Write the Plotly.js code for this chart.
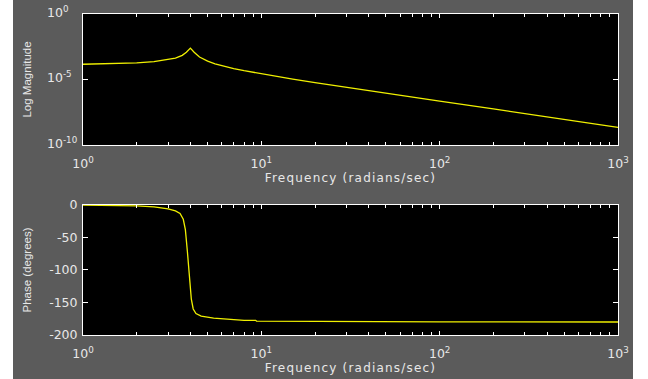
<!DOCTYPE html>
<html>
<head>
<meta charset="utf-8">
<script src="https://cdn.plot.ly/plotly-3.0.1.min.js"></script>
<style>
html,body{margin:0;padding:0;background:#ffffff;width:648px;height:379px;overflow:hidden;}
#chart{position:absolute;left:13px;top:0;width:620px;height:379px;}
#chart .xtitle, #chart .x2title{letter-spacing:1.2px;}
</style>
</head>
<body>
<div id="chart"></div>
<script>
// Magnitude series (frequency in rad/s, magnitude)
const freqMag = [1, 1.5, 2, 2.5, 3, 3.3, 3.6, 3.8, 4, 4.2, 4.5, 5, 5.5, 6, 7, 8, 10, 15, 20, 30, 50, 70, 100, 200, 300, 500, 700, 1000];
const magnitude = [1.45e-4, 1.62e-4, 1.85e-4, 2.3e-4, 3.2e-4, 4.3e-4, 7.0e-4, 1.2e-3, 2.5e-3, 1.2e-3, 5.2e-4, 2.5e-4, 1.57e-4, 1.12e-4, 6.8e-5, 4.7e-5, 2.7e-5, 1.07e-5, 5.8e-6, 2.5e-6, 9.0e-7, 4.6e-7, 2.24e-7, 5.6e-8, 2.5e-8, 9.0e-9, 4.6e-9, 2.2e-9];

// Phase series (frequency in rad/s, degrees)
const freqPhase = [1, 1.5, 2, 2.5, 3, 3.3, 3.5, 3.65, 3.75, 3.85, 3.95, 4.05, 4.15, 4.3, 4.6, 5.4, 8, 9.3, 9.4, 20, 100, 1000];
const phaseDeg = [0, -0.5, -1.5, -3, -6, -9, -13, -22, -38, -72, -112, -145, -160, -167, -171, -174, -177.4, -177.4, -178.8, -179.4, -179.9, -180];

// Tick labels
const xTickVals = [1, 10, 100, 1000];
const xTickText = ['10<sup>0</sup>', '10<sup>1</sup>', '10<sup>2</sup>', '10<sup>3</sup>'];
const xMinorVals = [2,3,4,5,6,7,8,9,20,30,40,50,60,70,80,90,200,300,400,500,600,700,800,900];
const magTickVals = [1e-10, 1e-5, 1];
const magTickText = ['10<sup>-10</sup>', '10<sup>-5</sup>', '10<sup>0</sup>'];
const phaseTickVals = [-200, -150, -100, -50, 0];
const phaseTickText = ['-200', '-150', '-100', '-50', '0'];

const fg = '#e8e8e8';
const tickFont = {family: 'DejaVu Sans, sans-serif', size: 12.5, color: fg};
const xTitleFont = {family: 'DejaVu Sans, sans-serif', size: 12, color: fg};
const yTitleFont = {family: 'Liberation Sans, Arial, sans-serif', size: 11.5, color: fg};

function xAxis(anchor) {
  return {
    type: 'log', range: [0, 3], anchor: anchor,
    tickmode: 'array', tickvals: xTickVals, ticktext: xTickText,
    ticks: 'inside', ticklen: 4, tickcolor: '#ffffff', tickwidth: 1,
    showline: true, linecolor: '#ffffff', linewidth: 1, mirror: 'ticks',
    showgrid: false, zeroline: false,
    minor: {tickmode: 'array', tickvals: xMinorVals, ticks: 'inside', ticklen: 3, tickcolor: '#ffffff', showgrid: false},
    tickfont: tickFont, ticklabelstandoff: 7,
    title: {text: 'Frequency (radians/sec)', font: xTitleFont, standoff: 3}
  };
}

const traces = [
  {x: freqMag, y: magnitude, type: 'scatter', mode: 'lines', xaxis: 'x', yaxis: 'y',
   line: {color: '#f0f000', width: 1.3}, hoverinfo: 'skip'},
  {x: freqPhase, y: phaseDeg, type: 'scatter', mode: 'lines', xaxis: 'x2', yaxis: 'y2',
   line: {color: '#f0f000', width: 1.3}, hoverinfo: 'skip'}
];

// magnitude tick labels, left-aligned like the original ("10" column aligned)
const magAnnotations = magTickVals.map((v, i) => ({
  xref: 'paper', yref: 'y', x: 0, y: Math.log10(v),
  xanchor: 'left', yanchor: 'middle', xshift: -38, yshift: 2,
  text: magTickText[i], showarrow: false, font: tickFont
}));

const layout = {
  width: 620, height: 379,
  margin: {l: 70, r: 15, t: 14, b: 44},
  paper_bgcolor: '#5b5b5b', plot_bgcolor: '#000000',
  font: tickFont, showlegend: false,
  xaxis: xAxis('y'),
  xaxis2: xAxis('y2'),
  yaxis: {
    type: 'log', range: [-10, 0], domain: [0.592, 1], anchor: 'x',
    tickmode: 'array', tickvals: magTickVals, ticktext: magTickText, showticklabels: false,
    ticks: 'inside', ticklen: 5, tickcolor: '#ffffff',
    showline: true, linecolor: '#ffffff', mirror: 'ticks',
    showgrid: false, zeroline: false,
    title: {text: 'Log Magnitude', font: yTitleFont, standoff: 47}
  },
  yaxis2: {
    range: [-200, 0], domain: [0, 0.405], anchor: 'x2',
    tickmode: 'array', tickvals: phaseTickVals, ticktext: phaseTickText,
    ticks: 'inside', ticklen: 5, tickcolor: '#ffffff',
    showline: true, linecolor: '#ffffff', mirror: 'ticks',
    showgrid: false, zeroline: false,
    tickfont: tickFont, ticklabelstandoff: 2,
    title: {text: 'Phase (degrees)', font: yTitleFont, standoff: 15}
  },
  annotations: magAnnotations
};

Plotly.newPlot('chart', traces, layout, {staticPlot: true, displayModeBar: false});
</script>
</body>
</html>
